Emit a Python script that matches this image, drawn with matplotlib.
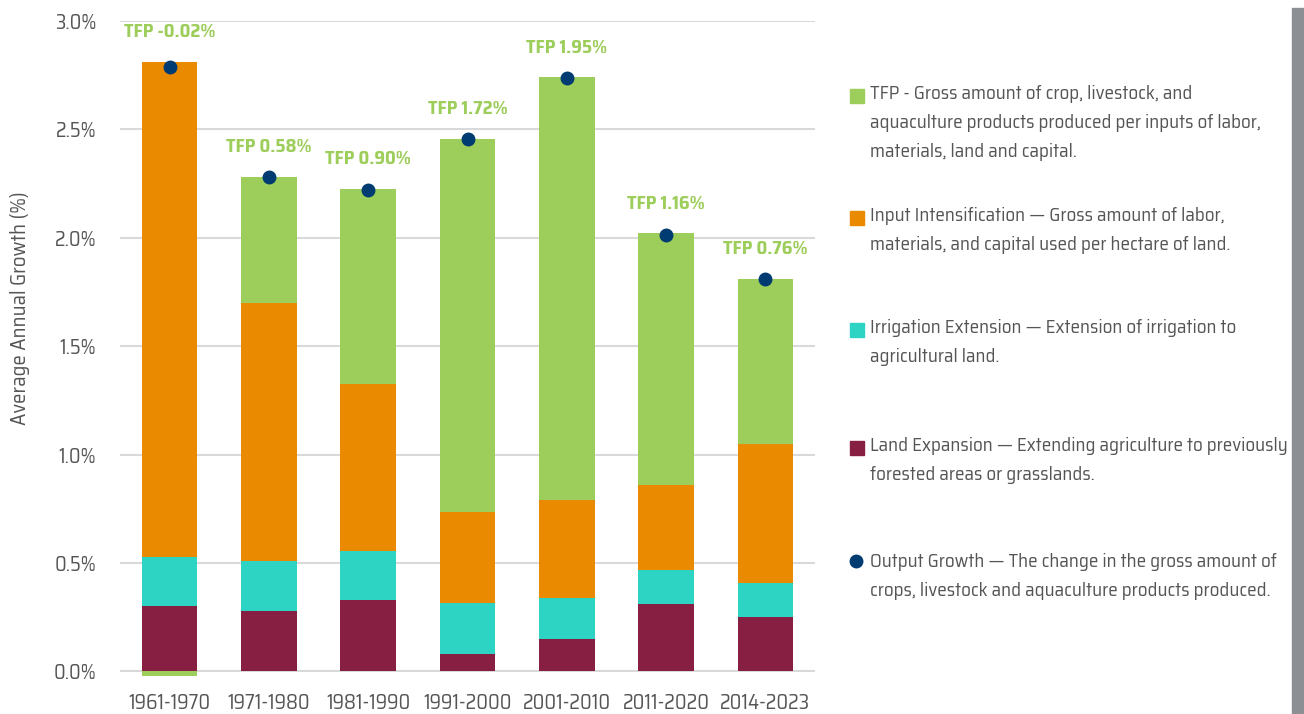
import matplotlib
matplotlib.use('Agg')
import matplotlib.pyplot as plt
from matplotlib import font_manager
from matplotlib.patches import Rectangle
from matplotlib.lines import Line2D

# data
periods = ['1961-1970', '1971-1980', '1981-1990', '1991-2000', '2001-2010', '2011-2020', '2014-2023']
land = [0.30, 0.28, 0.33, 0.08, 0.15, 0.31, 0.25]
irrigation = [0.23, 0.23, 0.225, 0.235, 0.19, 0.16, 0.16]
inputs = [2.28, 1.19, 0.77, 0.42, 0.45, 0.39, 0.64]
tfp = [-0.02, 0.58, 0.90, 1.72, 1.95, 1.16, 0.76]
output = [2.79, 2.28, 2.22, 2.455, 2.736, 2.015, 1.81]
y_ticks = [0.0, 0.5, 1.0, 1.5, 2.0, 2.5, 3.0]

legend_items = [
  ('TFP - Gross amount of crop, livestock, and\naquaculture products produced per inputs of labor,\nmaterials, land and capital.', 'tfp'),
  ('Input Intensification \u2014 Gross amount of labor,\nmaterials, and capital used per hectare of land.', 'input'),
  ('Irrigation Extension \u2014 Extension of irrigation to\nagricultural land.', 'irr'),
  ('Land Expansion \u2014 Extending agriculture to previously\nforested areas or grasslands.', 'land'),
  ('Output Growth \u2014 The change in the gross amount of\ncrops, livestock and aquaculture products produced.', 'out'),
]

COLORS = {'tfp': '#9dcd5a', 'input': '#ea8a00', 'irr': '#2dd4c4',
  'land': '#861f41', 'out': '#003b71'}
TEXT = '#555555'

names = {f.name for f in font_manager.fontManager.ttflist}
family = 'Roboto'
for cand in ('Saira SemiCondensed', 'Archivo Narrow', 'Sofia Sans Condensed'):
  if cand in names:
    family = cand
    break
plt.rcParams['font.family'] = [family, 'DejaVu Sans']

W, H = 1304, 714
fig = plt.figure(figsize=(W/100, H/100), dpi=100)
ax = fig.add_axes([120/W, 1 - 678/H, 695/W, 657/H])

x = list(range(len(periods)))
width = 0.56
ax.bar(x, land, width, color=COLORS['land'], zorder=2)
bottom = list(land)
ax.bar(x, irrigation, width, bottom=bottom, color=COLORS['irr'], zorder=2)
bottom = [b + v for b, v in zip(bottom, irrigation)]
ax.bar(x, inputs, width, bottom=bottom, color=COLORS['input'], zorder=2)
bottom = [b + v for b, v in zip(bottom, inputs)]
# negative TFP is drawn down from zero
tfp_bottom = [b if v >= 0 else 0 for b, v in zip(bottom, tfp)]
ax.bar(x, tfp, width, bottom=tfp_bottom, color=COLORS['tfp'], zorder=2)
tops = [b + max(v, 0) for b, v in zip(bottom, tfp)]

ax.plot(x, output, 'o', color=COLORS['out'], markersize=9, zorder=4)

for xi, top, v in zip(x, tops, tfp):
  ax.annotate('TFP {:.2f}%'.format(v), (xi, top), xytext=(0, 15),
    textcoords='offset points', ha='center', va='bottom', color=COLORS['tfp'],
    fontsize=13.5, fontweight='bold')

ax.set_xlim(-0.5, 6.5)
ax.set_ylim(-0.03, 3.0)
ax.set_yticks(y_ticks)
ax.set_yticklabels(['{:.1f}%'.format(t) for t in y_ticks])
ax.set_xticks(x)
ax.set_xticklabels(periods)
ax.tick_params(axis='both', length=0, colors=TEXT, labelsize=14.5)
ax.tick_params(axis='y', pad=17)
ax.tick_params(axis='x', pad=11)
ax.grid(axis='y', color='#d9d9d9', linewidth=1.5, zorder=0)
for s in ax.spines.values():
  s.set_visible(False)
fig.text(20/W, 1 - 308/H, 'Average Annual Growth (%)', rotation=90,
  ha='center', va='center', color=TEXT, fontsize=15)

# legend drawn by hand, text blocks beside colour keys
tops_px = [85, 207, 319, 437, 553]
for (label, key), ty in zip(legend_items, tops_px):
  fig.text(870/W, 1 - ty/H, label, ha='left', va='top', color=TEXT,
    fontsize=13.7, linespacing=1.8)
  if key == 'out':
    fig.add_artist(Line2D([856/W], [1 - (ty + 8)/H], marker='o', color=COLORS[key],
      markersize=9, transform=fig.transFigure))
  else:
    fig.add_artist(Rectangle((850/W, 1 - (ty + 18)/H), 14/W, 14/H,
      color=COLORS[key], transform=fig.transFigure))

# grey strip on the right edge
fig.add_artist(Rectangle((1292/W, 0), 12/W, 1 - 8/H, color='#8c8f93',
  transform=fig.transFigure))

fig.savefig('out.png', dpi=100)
